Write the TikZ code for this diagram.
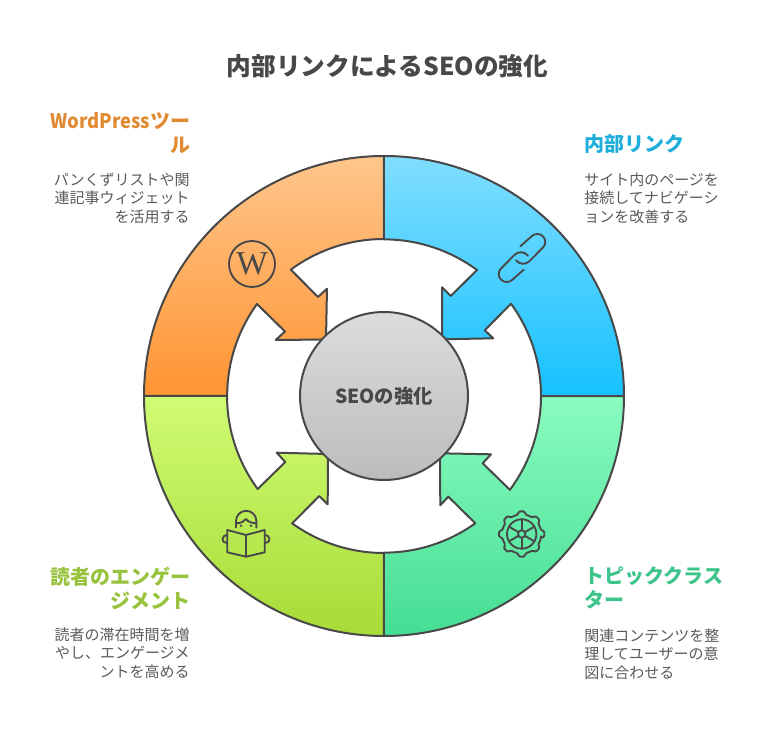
\documentclass[tikz,border=0pt]{standalone}
\usepackage{fontspec}
\setmainfont{Noto Sans CJK JP}
\newfontfamily\narrowlatin{Noto Sans CJK JP}[FakeStretch=0.92]
\usepackage{xcolor}
\usetikzlibrary{positioning, shapes.geometric}
\definecolor{inkgray}{HTML}{484848}
\definecolor{wpcol}{HTML}{E08A32}
\definecolor{linkcol}{HTML}{1FAEDC}
\definecolor{clustercol}{HTML}{3DC48A}
\definecolor{readcol}{HTML}{97C23D}

\begin{document}
\begin{tikzpicture}[
  x=0.75pt, y=0.75pt,
  every node/.style={inner sep=0pt, text=inkgray},
  segment/.style={draw=inkgray, line width=1.5pt, line join=round},
  icon/.style={draw=inkgray, line width=1.4pt, line cap=round, line join=round},
  titletxt/.style={font=\fontsize{18.5pt}{22pt}\selectfont\bfseries},
  headtxt/.style={font=\fontsize{15pt}{18pt}\selectfont\bfseries},
  bodytxt/.style={font=\fontsize{11.25pt}{13.9pt}\selectfont, text=inkgray!90}
]
\useasboundingbox (-384,-336) rectangle (390,396);

% ---- HEADER ----
\node[titletxt] (title) at (3.5, 330) {内部リンクによるSEOの強化};

% ==== RING ====
\draw[segment, top color={rgb,255:red,255;green,198;blue,140}, bottom color={rgb,255:red,255;green,148;blue,50}]
  (-240,0) arc[start angle=180, end angle=90, radius=240] -- (0,157)
  arc[start angle=90, end angle=126.4, radius=157]
  -- (-66,99) -- (-57,107.3) -- (-58,56.5) -- (-108.3,56) -- (-99,64.5) -- (-127,92)
  arc[start angle=144.1, end angle=180, radius=157] -- cycle;

\draw[segment, top color={rgb,255:red,128;green,222;blue,255}, bottom color={rgb,255:red,22;green,193;blue,255}]
  (0,240) arc[start angle=90, end angle=0, radius=240] -- (157,0)
  arc[start angle=0, end angle=36, radius=157]
  -- (100.7,65.7) -- (109.3,57.7) -- (58,56.7) -- (58,108.7) -- (66.7,100) -- (93,126)
  arc[start angle=53.6, end angle=90, radius=157] -- cycle;

\draw[segment, top color={rgb,255:red,208;green,252;blue,116}, bottom color={rgb,255:red,167;green,219;blue,54}]
  (-240,0) arc[start angle=180, end angle=270, radius=240] -- (0,-157)
  arc[start angle=270, end angle=234.2, radius=157]
  -- (-64.7,-100) -- (-56.3,-108.3) -- (-56,-58) -- (-107.3,-56.7) -- (-98.7,-66) -- (-126.3,-93)
  arc[start angle=216.4, end angle=180, radius=157] -- cycle;

\draw[segment, top color={rgb,255:red,138;green,252;blue,192}, bottom color={rgb,255:red,68;green,221;blue,148}]
  (0,-240) arc[start angle=270, end angle=360, radius=240] -- (157,0)
  arc[start angle=0, end angle=-36.7, radius=157]
  -- (98.7,-67.3) -- (107,-58.3) -- (56,-57.3) -- (56.3,-109.3) -- (64.3,-100.7) -- (91.3,-127.3)
  arc[start angle=305.6, end angle=270, radius=157] -- cycle;

% ---- CENTER ----
\node[circle, draw=inkgray, line width=1.5pt, minimum size=126pt,
      top color={rgb,255:red,220;green,220;blue,220}, bottom color={rgb,255:red,188;green,188;blue,188},
      font=\fontsize{14.5pt}{16pt}\selectfont\bfseries] (core) at (0,0) {SEOの強化};

% ---- ICONS ----
\node[circle, draw=inkgray, line width=1.4pt, minimum size=34.5pt,
      font=\fontspec{Liberation Serif}\fontsize{25pt}{25pt}\selectfont] (wpicon) at (-132,132) {W};

% link
\begin{scope}[shift={(138,138)}]
  \foreach \rot in {0,180}
    \draw[icon, rotate=\rot] (-1.7,11.7) -- (9.6,21.7)
      arc[start angle=135, end angle=-45, radius=8] -- (7.3,-3.3)
      .. controls (3.5,-7) and (-2.5,-6.5) .. (-6,-2.3);
\end{scope}

% gear
\begin{scope}[shift={(137.7,-138)}]
  \draw[icon, rounded corners=1pt] (-11:19.5)
    \foreach \a in {0,45,...,315} { -- (\a-8:22.8) -- (\a+8:22.8) -- (\a+11:19.5)
      arc[start angle=\a+11, end angle=\a+34, radius=19.5] } -- cycle;
  \draw[icon] (0,0) circle[radius=14.7];
  \draw[icon] (0,0) circle[radius=3.7];
  \foreach \a in {30,90,...,330}
    \draw[icon] (\a:3.7) -- (\a:14.7);
\end{scope}

% reader
\begin{scope}[shift={(-138,-139)}]
  \draw[icon] (0,0) -- (-18.7,5) -- (-18.7,-17.3) -- (0,-21.7) -- (18.7,-17.3) -- (18.7,5) -- cycle;
  \draw[icon] (0,0) -- (0,-21.7);
  \foreach \sx in {1,-1}
    \draw[icon, xscale=\sx] (-18.7,-0.1) arc[start angle=80, end angle=280, radius=4];
  \draw[icon] (-10,7.5) -- (-10,14) arc[start angle=180, end angle=0, radius=10.2] -- (10.4,7.5);
  \draw[icon] (-10,11.7) .. controls (-5,12) and (-2,13) .. (0,16) .. controls (2,13) and (6,12) .. (10.4,11.7);
  \fill[inkgray] (-5,9.3) circle[radius=1.3];
  \fill[inkgray] (5,9.3) circle[radius=1.3];
\end{scope}

% ==== LEFT TOP ====
\node[headtxt, text=wpcol, align=right, anchor=east] (wphead) at (-193.5,263) {{\narrowlatin WordPress}ツー\\ル};
\node[bodytxt, align=right, anchor=east] (wpbody) at (-194,198)
  {パンくずリストや関\\連記事ウィジェット\\を活用する};

% ==== RIGHT TOP ====
\node[headtxt, text=linkcol, align=left, anchor=west] (linkhead) at (200,252) {内部リンク};
\node[bodytxt, align=left, anchor=west] (linkbody) at (200,198)
  {サイト内のページを\\接続してナビゲーシ\\ョンを改善する};

% ==== LEFT BOTTOM ====
\node[headtxt, text=readcol, align=right, anchor=east] (readhead) at (-193.5,-192) {読者のエンゲー\\ジメント};
\node[bodytxt, align=right, anchor=east] (readbody) at (-194,-257)
  {読者の滞在時間を増\\やし、エンゲージメ\\ントを高める};

% ==== RIGHT BOTTOM ====
\node[headtxt, text=clustercol, align=left, anchor=west] (clusterhead) at (200,-192) {トピッククラス\\ター};
\node[bodytxt, align=left, anchor=west] (clusterbody) at (200,-258)
  {関連コンテンツを整\\理してユーザーの意\\図に合わせる};

\end{tikzpicture}
\end{document}
